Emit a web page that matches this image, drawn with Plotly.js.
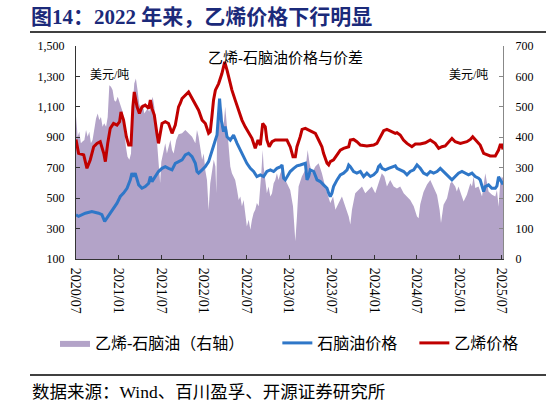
<!DOCTYPE html>
<html><head><meta charset="utf-8">
<script src="https://cdn.plot.ly/plotly-3.0.1.min.js"></script>
<style>html,body{margin:0;padding:0;background:#fff}#chart{width:546px;height:405px}</style>
</head><body><div id="chart"></div>
<script>
// Ethylene price (USD/t, left axis)
const ethyleneDates = ['2020-07-01','2020-07-12','2020-08-03','2020-08-17','2020-08-31','2020-09-15','2020-09-29','2020-10-13','2020-10-28','2020-11-04','2020-11-14','2020-11-25','2020-12-09','2020-12-24','2021-01-04','2021-01-10','2021-01-21','2021-02-02','2021-02-12','2021-02-22','2021-03-02','2021-03-08','2021-03-20','2021-03-30','2021-04-10','2021-04-24','2021-05-09','2021-05-16','2021-05-23','2021-06-02','2021-06-13','2021-06-20','2021-07-05','2021-07-19','2021-08-02','2021-08-17','2021-08-31','2021-09-14','2021-09-21','2021-09-29','2021-10-27','2021-11-11','2021-11-25','2021-12-09','2021-12-24','2022-01-07','2022-01-21','2022-01-28','2022-02-04','2022-02-11','2022-02-19','2022-03-05','2022-03-19','2022-03-31','2022-04-10','2022-04-17','2022-05-01','2022-05-15','2022-05-30','2022-06-13','2022-06-27','2022-07-12','2022-07-26','2022-08-09','2022-08-21','2022-08-31','2022-09-10','2022-09-21','2022-09-28','2022-10-08','2022-10-20','2022-11-03','2022-11-24','2022-12-23','2023-01-06','2023-01-18','2023-01-28','2023-02-04','2023-02-18','2023-02-26','2023-03-12','2023-03-26','2023-04-09','2023-04-24','2023-05-08','2023-05-22','2023-05-29','2023-06-13','2023-06-20','2023-06-27','2023-07-11','2023-07-26','2023-08-09','2023-08-23','2023-09-14','2023-09-21','2023-10-05','2023-10-19','2023-11-03','2023-12-01','2023-12-30','2024-01-13','2024-01-27','2024-02-11','2024-02-25','2024-03-10','2024-04-01','2024-04-08','2024-04-22','2024-05-06','2024-05-21','2024-06-11','2024-06-26','2024-07-17','2024-08-08','2024-08-29','2024-09-19','2024-10-04','2024-10-18','2024-11-01','2024-11-16','2024-11-30','2024-12-14','2025-01-05','2025-02-02','2025-02-17','2025-02-27','2025-03-17','2025-03-31','2025-04-15','2025-04-29','2025-05-13','2025-06-04','2025-06-18','2025-06-25','2025-07-02','2025-07-07'];
const ethyleneValues = [885,795,784,696,751,838,860,871,795,740,860,959,991,980,1002,1067,1013,904,849,849,1100,1198,1100,1057,1100,1111,1090,1144,1090,1046,926,860,991,1002,991,926,980,1100,1122,1155,1198,1155,1122,1078,1013,991,926,936,1035,1144,1210,1253,1319,1395,1341,1297,1210,1144,1078,1013,969,926,893,827,882,849,991,969,882,838,871,882,882,882,838,772,772,838,904,952,959,947,936,926,882,838,795,729,718,740,751,784,816,827,838,882,886,871,849,843,849,860,904,943,952,940,926,930,915,882,860,838,856,856,864,882,860,827,838,843,871,893,871,860,871,886,904,871,849,795,784,777,777,816,849,849,820];

// Naphtha price (USD/t, left axis)
const naphthaDates = ['2020-07-01','2020-07-12','2020-08-10','2020-09-07','2020-10-06','2020-10-20','2020-11-01','2020-11-11','2020-11-25','2020-12-09','2020-12-24','2021-01-07','2021-01-21','2021-02-05','2021-02-19','2021-02-26','2021-03-05','2021-03-12','2021-03-20','2021-03-27','2021-04-10','2021-04-24','2021-05-09','2021-05-16','2021-05-23','2021-06-06','2021-06-20','2021-07-05','2021-07-19','2021-08-02','2021-08-17','2021-08-31','2021-09-14','2021-09-29','2021-10-13','2021-10-27','2021-11-11','2021-11-25','2021-12-02','2021-12-09','2021-12-24','2022-01-07','2022-01-21','2022-02-04','2022-02-19','2022-02-26','2022-03-05','2022-03-09','2022-03-16','2022-03-26','2022-04-02','2022-04-10','2022-04-24','2022-05-08','2022-05-23','2022-06-06','2022-06-20','2022-07-04','2022-07-19','2022-08-02','2022-08-16','2022-08-31','2022-09-14','2022-09-28','2022-10-13','2022-10-27','2022-11-10','2022-11-24','2022-12-02','2022-12-09','2022-12-16','2022-12-23','2023-01-06','2023-01-21','2023-02-04','2023-02-18','2023-03-05','2023-03-12','2023-03-19','2023-03-26','2023-04-02','2023-04-17','2023-05-01','2023-05-15','2023-05-29','2023-06-13','2023-06-20','2023-06-27','2023-07-04','2023-07-11','2023-07-26','2023-08-09','2023-08-23','2023-09-07','2023-09-14','2023-09-21','2023-10-05','2023-10-19','2023-11-03','2023-11-17','2023-12-01','2023-12-16','2023-12-30','2024-01-13','2024-01-20','2024-01-27','2024-02-04','2024-02-18','2024-03-03','2024-03-18','2024-04-01','2024-04-08','2024-05-07','2024-05-21','2024-06-04','2024-06-19','2024-07-03','2024-07-17','2024-07-31','2024-08-15','2024-08-29','2024-09-12','2024-09-27','2024-10-11','2024-11-01','2024-11-16','2024-11-30','2024-12-14','2024-12-28','2025-01-12','2025-01-26','2025-02-09','2025-02-24','2025-03-10','2025-03-24','2025-03-31','2025-04-15','2025-04-22','2025-05-06','2025-05-20','2025-06-04','2025-06-11','2025-06-18','2025-06-25','2025-07-02','2025-07-07'];
const naphthaValues = [391,380,401,412,401,391,347,369,401,434,467,511,533,565,620,664,642,664,620,587,565,576,598,642,609,642,675,696,707,696,686,729,740,751,784,795,773,729,675,664,686,707,740,817,882,915,1035,1155,1013,937,970,904,882,915,860,817,773,729,696,675,642,653,642,675,686,675,696,705,718,631,620,642,675,696,712,718,729,729,620,642,686,675,620,609,587,565,533,511,533,576,620,653,664,686,718,707,675,664,675,642,664,642,653,675,707,718,696,686,696,707,712,696,675,653,675,686,718,696,664,653,675,664,675,696,664,642,620,642,664,675,664,653,664,642,631,620,543,576,587,565,565,580,640,620,600,590];

// Ethylene - naphtha spread (USD/t, right axis)
const spreadDates = ['2020-07-01','2020-07-04','2020-07-08','2020-07-15','2020-07-22','2020-07-29','2020-08-06','2020-08-13','2020-08-20','2020-08-27','2020-09-03','2020-09-10','2020-09-18','2020-09-25','2020-10-02','2020-10-09','2020-10-16','2020-10-23','2020-10-30','2020-11-07','2020-11-14','2020-11-21','2020-11-28','2020-12-05','2020-12-12','2020-12-19','2020-12-27','2021-01-03','2021-01-10','2021-01-17','2021-01-24','2021-01-31','2021-02-07','2021-02-15','2021-02-22','2021-03-01','2021-03-08','2021-03-15','2021-03-22','2021-03-29','2021-04-06','2021-04-13','2021-04-20','2021-04-27','2021-05-04','2021-05-11','2021-05-19','2021-05-26','2021-06-02','2021-06-09','2021-06-16','2021-06-23','2021-06-27','2021-07-02','2021-07-09','2021-07-19','2021-07-26','2021-08-02','2021-08-10','2021-08-17','2021-08-24','2021-09-04','2021-09-14','2021-09-29','2021-10-13','2021-10-27','2021-11-11','2021-11-25','2021-12-02','2021-12-09','2021-12-16','2021-12-24','2021-12-31','2022-01-07','2022-01-14','2022-01-21','2022-01-28','2022-02-04','2022-02-12','2022-02-19','2022-02-23','2022-02-27','2022-03-05','2022-03-12','2022-03-19','2022-03-26','2022-04-02','2022-04-10','2022-04-17','2022-04-24','2022-05-01','2022-05-08','2022-05-15','2022-05-23','2022-05-30','2022-06-06','2022-06-13','2022-06-20','2022-06-27','2022-07-04','2022-07-12','2022-07-19','2022-07-26','2022-08-02','2022-08-09','2022-08-16','2022-08-24','2022-08-31','2022-09-04','2022-09-10','2022-09-14','2022-09-21','2022-09-28','2022-10-05','2022-10-13','2022-10-20','2022-10-27','2022-11-03','2022-11-10','2022-11-17','2022-11-24','2022-12-02','2022-12-09','2022-12-23','2023-01-06','2023-01-18','2023-01-28','2023-02-04','2023-02-11','2023-02-25','2023-03-12','2023-03-22','2023-03-30','2023-04-09','2023-04-24','2023-05-08','2023-05-22','2023-06-05','2023-06-20','2023-06-27','2023-07-09','2023-07-19','2023-08-02','2023-08-16','2023-08-30','2023-09-14','2023-09-21','2023-09-28','2023-10-12','2023-10-26','2023-11-10','2023-11-24','2023-12-08','2023-12-22','2024-01-06','2024-01-20','2024-02-03','2024-02-14','2024-02-25','2024-03-10','2024-03-25','2024-04-08','2024-04-22','2024-05-07','2024-05-21','2024-06-04','2024-06-19','2024-07-03','2024-07-10','2024-07-17','2024-07-31','2024-08-15','2024-08-29','2024-09-12','2024-09-27','2024-10-08','2024-10-14','2024-10-25','2024-11-09','2024-11-23','2024-11-30','2024-12-14','2024-12-21','2024-12-28','2025-01-12','2025-01-19','2025-02-02','2025-02-17','2025-02-24','2025-03-03','2025-03-10','2025-03-24','2025-04-08','2025-04-22','2025-05-06','2025-05-21','2025-06-04','2025-06-11','2025-06-18','2025-06-25','2025-07-02','2025-07-07'];
const spreadValues = [470,440,402,418,380,386,391,424,402,418,380,391,435,462,478,457,467,435,446,435,467,571,566,555,522,517,533,517,506,484,435,369,336,326,347,500,577,593,555,511,489,511,478,489,495,484,517,533,500,424,369,300,250,320,347,380,347,369,391,358,347,391,410,413,424,413,402,380,424,402,369,326,347,290,260,160,249,293,326,304,216,430,533,435,500,435,500,435,380,304,282,271,260,227,194,205,173,194,151,107,129,96,129,151,162,184,173,227,282,358,304,260,216,238,205,216,249,260,282,260,280,293,271,249,227,173,58,140,238,271,293,358,315,282,304,315,282,238,205,184,205,162,184,205,173,140,113,162,216,227,238,216,227,238,216,249,282,271,238,260,238,232,238,216,205,194,173,140,134,180,220,245,260,238,210,162,118,178,200,249,254,238,222,238,200,189,211,249,238,271,233,238,205,282,222,211,205,227,172,249,271,265];

const xRange = ['2020-07-01', '2025-07-07'];
const seriesNames = ['乙烯-石脑油（右轴）', '石脑油价格', '乙烯价格'];

const W = 546, H = 405;
const M = {l: 76, r: 43, t: 46, b: 146};
const PW = W - M.l - M.r, PH = H - M.t - M.b;
const px = X => (X - M.l) / PW;
const py = Y => (M.t + PH - Y) / PH;
const pad = n => '\u00A0'.repeat(n);

const SERIF_CJK = '"Liberation Serif","Noto Sans CJK SC",serif';

const traces = [
  {x: spreadDates, y: spreadValues, type: 'scatter', mode: 'lines', name: seriesNames[0] + pad(7),
   fill: 'tozeroy', fillcolor: '#B3A3C8', line: {width: 0, color: '#B3A3C8'}, xaxis: 'x', yaxis: 'y'},
  {x: naphthaDates, y: naphthaValues, type: 'scatter', mode: 'lines', name: seriesNames[1] + pad(3),
   line: {color: '#2F77C8', width: 3}, xaxis: 'x', yaxis: 'y2'},
  {x: ethyleneDates, y: ethyleneValues, type: 'scatter', mode: 'lines', name: seriesNames[2],
   line: {color: '#C00000', width: 3}, xaxis: 'x', yaxis: 'y2'}
];

const layout = {
  width: W, height: H,
  margin: M,
  paper_bgcolor: '#fff', plot_bgcolor: '#fff',
  font: {family: SERIF_CJK, size: 12, color: '#000'},
  showlegend: true,
  hovermode: false,
  title: {text: '图14：2022 年来，乙烯价格下行明显', xref: 'container', yref: 'container',
          x: 31 / W, xanchor: 'left', y: 1 - 17 / H, yanchor: 'middle',
          font: {family: SERIF_CJK, size: 21, color: '#1B2A7A', weight: 'bold'}},
  xaxis: {type: 'date', range: xRange, tickformat: '%Y/%m', dtick: 'M6', tick0: '2020-07-01',
          tickangle: 90, ticks: 'inside', ticklen: 4, tickcolor: '#333', showline: true,
          linecolor: '#333', linewidth: 1, showgrid: false, zeroline: false, ticklabelstandoff: 5,
          tickfont: {family: SERIF_CJK, size: 14, color: '#000'}},
  yaxis: {range: [0, 700], dtick: 100, tick0: 0, side: 'right', ticks: 'inside', ticklen: 4,
          tickcolor: '#888', showline: true, linecolor: '#888', linewidth: 1, showgrid: false,
          zeroline: false, ticklabelstandoff: 9, tickfont: {family: SERIF_CJK, size: 12, color: '#000'}},
  yaxis2: {range: [100, 1500], dtick: 200, tick0: 100, tickformat: ',', side: 'left', overlaying: 'y',
           ticks: 'inside', ticklen: 4, tickcolor: '#333', showline: true, linecolor: '#333',
           linewidth: 1, showgrid: false, zeroline: false, ticklabelstandoff: 8,
           tickfont: {family: SERIF_CJK, size: 12, color: '#000'}},
  legend: {orientation: 'h', xref: 'paper', yref: 'paper', x: px(55), xanchor: 'left',
           y: py(343), yanchor: 'middle', font: {family: SERIF_CJK, size: 16, color: '#000'},
           itemwidth: 30, traceorder: 'normal', bgcolor: 'rgba(0,0,0,0)'},
  annotations: [
    {text: '乙烯-石脑油价格与价差', xref: 'paper', yref: 'paper', x: px(285), y: py(57.5),
     xanchor: 'center', yanchor: 'middle', showarrow: false, font: {family: SERIF_CJK, size: 15}},
    {text: '美元/吨', xref: 'paper', yref: 'paper', x: px(109.5), y: py(75),
     xanchor: 'center', yanchor: 'middle', showarrow: false, font: {family: SERIF_CJK, size: 12}},
    {text: '美元/吨', xref: 'paper', yref: 'paper', x: px(468.5), y: py(75),
     xanchor: 'center', yanchor: 'middle', showarrow: false, font: {family: SERIF_CJK, size: 12}},
    {text: '数据来源：Wind、百川盈孚、开源证券研究所', xref: 'paper', yref: 'paper', x: px(30), y: py(392),
     xanchor: 'left', yanchor: 'middle', showarrow: false, font: {family: SERIF_CJK, size: 17.5}}
  ],
  shapes: [
    {type: 'line', xref: 'paper', yref: 'paper', x0: px(30), x1: px(546), y0: py(32), y1: py(32),
     line: {color: '#000', width: 1.3}},
    {type: 'line', xref: 'paper', yref: 'paper', x0: px(30), x1: px(546), y0: py(375), y1: py(375),
     line: {color: '#000', width: 1.3}}
  ]
};

Plotly.newPlot('chart', traces, layout, {displayModeBar: false, staticPlot: true});
</script></body></html>
